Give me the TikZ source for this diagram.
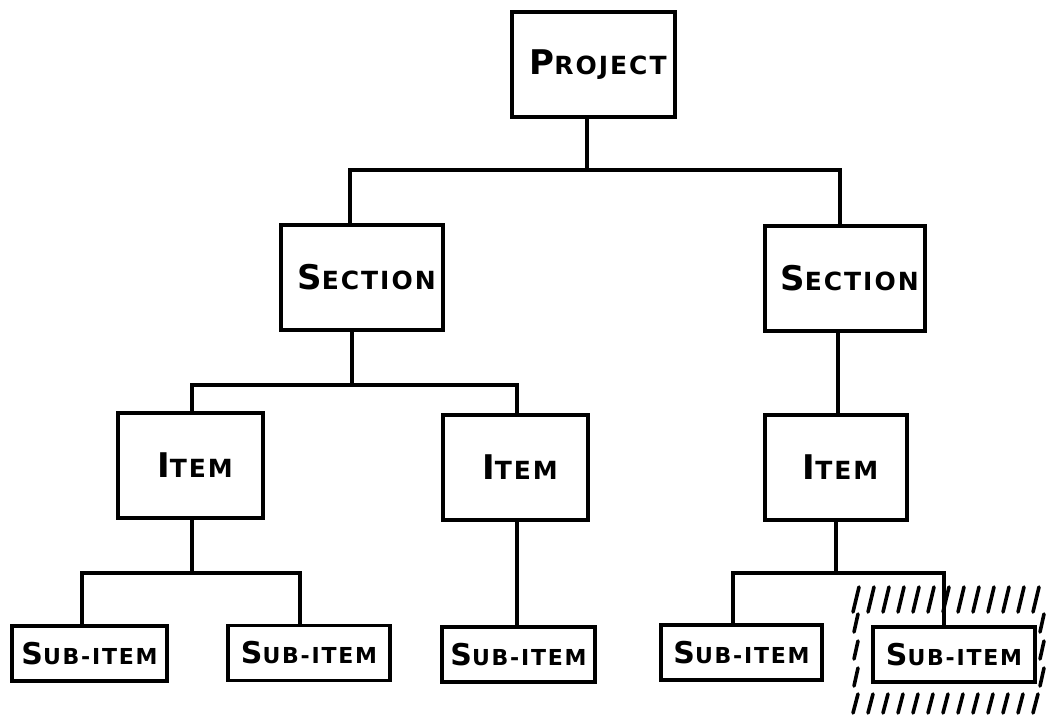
\documentclass[tikz,border=0pt]{standalone}
\usepackage{fontspec}
\newfontfamily\lettering[LetterSpace=8]{DejaVu Sans Bold}
% fake small caps: first letter full size, the rest smaller
\newcommand\capbig[2]{\hspace*{9pt}{\lettering\fontsize{34}{34}\selectfont #1}{\lettering\fontsize{25}{25}\selectfont #2}}
\newcommand\capsmall[2]{{\lettering\fontsize{30}{30}\selectfont #1}{\lettering\fontsize{22}{22}\selectfont #2}}
\begin{document}
\begin{tikzpicture}[x=1pt,y=-1pt,
  box/.style={draw,line width=3.4pt,fill=white,inner sep=0pt,anchor=center},
  bigbox/.style={box,minimum width=#1,minimum height=105pt},
  subbox/.style={box,minimum width=#1,minimum height=55pt},
  conn/.style={line width=3.4pt},
  hatch/.style={line width=3.6pt,line cap=round}]
\useasboundingbox (0,0) rectangle (1047,715);

% boxes
\node[bigbox=163pt] (project) at (593.5,64.5) {\capbig{P}{ROJECT}};
\node[bigbox=162pt] (secL) at (362,277.5) {\capbig{S}{ECTION}};
\node[bigbox=160pt] (secR) at (845,278.5) {\capbig{S}{ECTION}};
\node[bigbox=145pt] (itemL) at (190.5,465.5) {\capbig{I}{TEM}};
\node[bigbox=145pt] (itemM) at (515.5,467.5) {\capbig{I}{TEM}};
\node[bigbox=142pt] (itemR) at (836,467.5) {\capbig{I}{TEM}};
\node[subbox=155pt] (sub1) at (89.5,653.5) {\capsmall{S}{UB-ITEM}};
\node[subbox=162pt] (sub2) at (309,653) {\capsmall{S}{UB-ITEM}};
\node[subbox=153pt] (sub3) at (518.5,654.5) {\capsmall{S}{UB-ITEM}};
\node[subbox=161pt] (sub4) at (741.5,652.5) {\capsmall{S}{UB-ITEM}};
\node[subbox=162pt] (sub5) at (954,654.5) {\capsmall{S}{UB-ITEM}};

% branch points of the tree
\coordinate (j1) at (587,170);
\coordinate (j2) at (352,385);
\coordinate (j3) at (192,573);
\coordinate (j4) at (836,573);

% connectors
\draw[conn] (project.south -| j1) -- (j1);
\draw[conn] (secL.north -| 350,0) |- (j1) -| (secR.north -| 840,0);
\draw[conn] (secL.south -| j2) -- (j2);
\draw[conn] (itemL.north -| j3) |- (j2) -| (itemM.north -| 517,0);
\draw[conn] (secR.south -| 838,0) -- (itemR.north -| 838,0);
\draw[conn] (itemL.south -| j3) -- (j3);
\draw[conn] (sub1.north -| 82,0) |- (j3) -| (sub2.north -| 300,0);
\draw[conn] (itemM.south -| 517,0) -- (sub3.north -| 517,0);
\draw[conn] (itemR.south -| j4) -- (j4);
\draw[conn] (sub4.north -| 733,0) |- (j4) -| (sub5.north -| 944,0);

% hatched frame round the last sub-item
\foreach \x in {853,868,...,1043} {
  \draw[hatch] (\x,612) -- (\x+6,587);
  \draw[hatch] (\x,713) -- (\x+5,694);
}
\foreach \y in {614,641,668} {
  \draw[hatch] (854,\y+18) -- (858,\y);
  \draw[hatch] (1040,\y+18) -- (1044,\y);
}
\end{tikzpicture}
\end{document}
